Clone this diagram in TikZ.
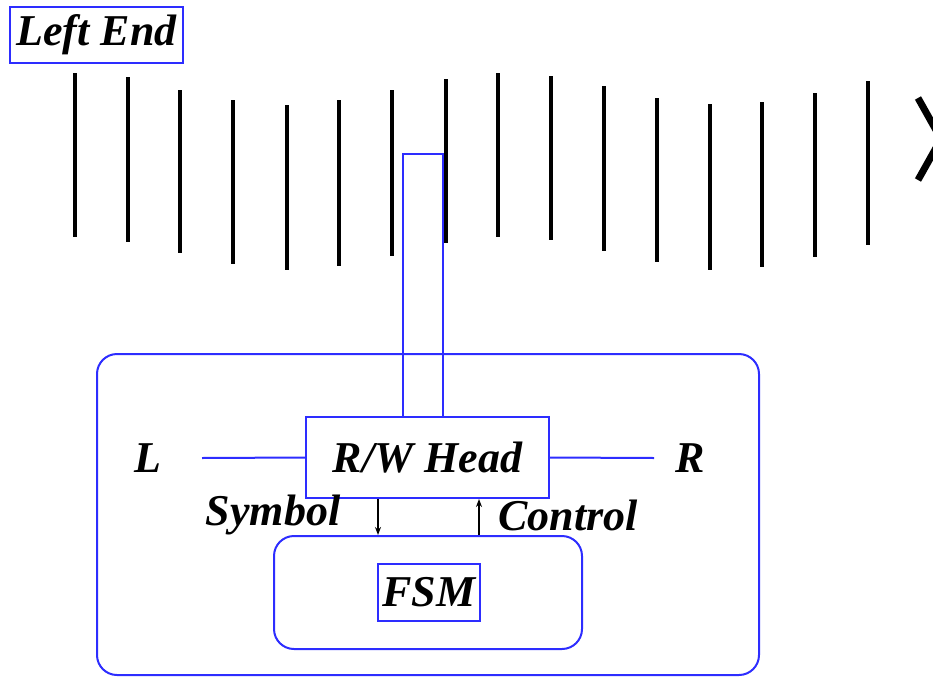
\documentclass[tikz,border=0pt]{standalone}
\usepackage{fontspec}
\setmainfont{Liberation Serif}
\usetikzlibrary{arrows.meta}
\definecolor{lnblue}{RGB}{45,45,255}
\tikzset{
  lbl/.style={font=\fontsize{44}{50}\selectfont\bfseries\itshape, inner sep=0pt, text=black},
  bluebox/.style={draw=lnblue, line width=2pt, inner sep=0pt},
  tapeline/.style={line width=4pt, black},
  blueline/.style={draw=lnblue, line width=2pt},
  arr/.style={line width=1.4pt, -{Stealth[length=8pt,width=6pt]}}
}
\begin{document}
\begin{tikzpicture}[x=1pt,y=-1pt]
\useasboundingbox (0,0) rectangle (933,677);
% tape
\foreach \x/\a/\b in {75/73/237,128/77/242,180/90/253,233/100/264,287/105/270,339/100/266,392/90/256,446/79/243,498/73/237,551/76/240,604/86/251,657/98/262,710/104/270,762/102/267,815/93/257,868/81/245}
  \draw[tapeline] (\x,\a) -- (\x,\b);
\begin{scope}
\clip (0,0) rectangle (933,677);
\draw[line width=7pt] (918,98) -- (941,139) -- (918,180);
\end{scope}
% left end
\node[bluebox, lbl, minimum width=173pt, minimum height=56pt] (leftend) at (96.5,35) {Left End};
% outer machine box
\node[bluebox, rounded corners=20pt, minimum width=662pt, minimum height=321pt] (outer) at (428,514.5) {};
% head arm
\node[bluebox, minimum width=40pt, minimum height=263pt] (arm) at (423,285.5) {};
% head
\node[bluebox, fill=white, lbl, minimum width=243pt, minimum height=81pt] (head) at (427.5,457.5) {R/W Head};
% L and R
\node[lbl] (L) at (148,458) {L};
\node[lbl] (R) at (690,458) {R};
\coordinate (lstart) at (202,458);
\coordinate (rend) at (654,458);
\draw[blueline] (lstart) -- (head.west);
\draw[blueline] (head.east) -- (rend);
% FSM
\node[bluebox, rounded corners=20pt, minimum width=308pt, minimum height=113pt] (fsmbox) at (428,592.5) {};
\node[bluebox, lbl, minimum width=102pt, minimum height=57pt] (fsm) at (429,592.5) {FSM};
% arrows
\coordinate (symx) at (378,0);
\coordinate (ctlx) at (479,0);
\draw[arr] (head.south -| symx) -- (fsmbox.north -| symx);
\draw[arr] (fsmbox.north -| ctlx) -- (head.south -| ctlx);
\node[lbl] (symbol) at (273,515) {Symbol};
\node[lbl] (control) at (568,515) {Control};
\end{tikzpicture}
\end{document}
